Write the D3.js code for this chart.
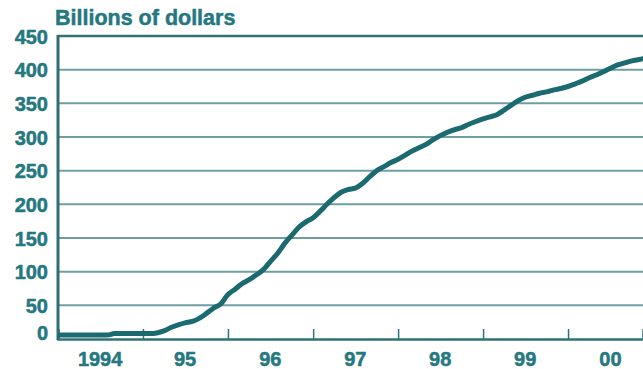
<!DOCTYPE html>
<html>
<head>
<meta charset="utf-8">
<script src="https://cdn.jsdelivr.net/npm/d3@7"></script>
<style>
  html, body { margin: 0; padding: 0; background: #fff; }
  svg { display: block; }
</style>
</head>
<body>
<div id="chart"></div>
<script>
// Monthly values, billions of dollars (Jan..Dec of each year)
const values1994 = [6, 6, 6, 6, 6, 6, 6, 6, 8, 8, 8, 8];
const values1995 = [8, 8, 9, 12, 17, 21, 24, 26, 31, 38, 46, 52];
const values1996 = [66, 74, 82, 88, 95, 103, 115, 127, 142, 154, 166, 174];
const values1997 = [180, 190, 200, 210, 218, 222, 224, 231, 241, 250, 256, 262];
const values1998 = [267, 273, 279, 284, 289, 296, 302, 307, 311, 314, 319, 323];
const values1999 = [327, 330, 333, 340, 347, 354, 359, 362, 365, 367, 370, 372];
const values2000 = [375, 379, 383, 388, 392, 397, 402, 407, 410, 413, 415, 417];

const years = [1994, 1995, 1996, 1997, 1998, 1999, 2000];
const yearLabels = ["1994", "95", "96", "97", "98", "99", "00"];
const yTicks = [0, 50, 100, 150, 200, 250, 300, 350, 400, 450];
const title = "Billions of dollars";

const series = [values1994, values1995, values1996, values1997, values1998, values1999, values2000];
const data = series.flatMap((vals, i) =>
    vals.map((v, m) => ({ date: new Date(years[i], m, 1), value: v })));

const width = 643;
const height = 369;
const marginLeft = 58;
const marginTop = 36;
const marginBottom = 30;

const teal = "#1a6a70";
const textColor = "#247880";

const x = d3.scaleTime()
    .domain([new Date(1994, 0, 1), new Date(2000, 10, 18)])
    .range([marginLeft, width]);

const y = d3.scaleLinear()
    .domain([0, 450])
    .range([height - marginBottom, marginTop]);

const svg = d3.select("#chart")
    .append("svg")
    .attr("width", width)
    .attr("height", height)
    .attr("viewBox", [0, 0, width, height])
    .style("font-family", "'Liberation Sans', Arial, sans-serif")
    .style("font-weight", "bold");

// Title
svg.append("text")
    .attr("x", 55)
    .attr("y", 25)
    .attr("fill", textColor)
    .attr("stroke", textColor)
    .attr("stroke-width", 0.5)
    .attr("font-size", 21.5)
    .text(title);

// Horizontal grid lines
svg.append("g")
    .selectAll("line")
    .data(yTicks.filter(d => d > 0))
    .join("line")
    .attr("x1", marginLeft)
    .attr("x2", width)
    .attr("y1", d => y(d))
    .attr("y2", d => y(d))
    .attr("stroke", d => d === 450 ? "#2e7378" : "#6f9ea2")
    .attr("stroke-width", d => d === 450 ? 2.5 : 2);

// Y axis labels
svg.append("g")
    .attr("transform", `translate(${marginLeft},0)`)
    .call(d3.axisLeft(y).tickValues(yTicks).tickSize(0).tickPadding(10))
    .call(g => g.select(".domain").remove())
    .call(g => g.selectAll(".tick text")
        .attr("fill", textColor)
        .attr("stroke", textColor)
        .attr("stroke-width", 0.5)
        .attr("font-size", 20)
        .attr("font-family", "'Liberation Sans', Arial, sans-serif")
        .attr("font-weight", "bold")
        .attr("dy", d => d === 0 ? "0em" : "0.35em"));

// X axis: year boundary ticks, labels centred in the year
const yearStarts = years.map(yr => new Date(yr, 0, 1));
const bottom = y(0);

svg.append("g")
    .attr("transform", `translate(0,${bottom})`)
    .call(d3.axisBottom(x).tickValues(yearStarts.slice(1)).tickSize(-10).tickFormat(""))
    .call(g => g.select(".domain").attr("stroke", "#2e7379").attr("stroke-width", 2.5))
    .call(g => g.selectAll(".tick line").attr("stroke", "#2e7379").attr("stroke-width", 1.5));

svg.append("g")
    .selectAll("text")
    .data(years)
    .join("text")
    .attr("x", (yr) => x(new Date(yr, 6, 1)))
    .attr("y", 366)
    .attr("text-anchor", "middle")
    .attr("fill", textColor)
    .attr("stroke", textColor)
    .attr("stroke-width", 0.5)
    .attr("font-size", 20)
    .text((yr, i) => yearLabels[i]);

// Left axis line
svg.append("line")
    .attr("x1", marginLeft)
    .attr("x2", marginLeft)
    .attr("y1", y(450) - 1)
    .attr("y2", bottom + 1)
    .attr("stroke", "#2e6e74")
    .attr("stroke-width", 3);

// Data line
svg.append("defs").append("clipPath")
    .attr("id", "plot-clip")
    .append("rect")
    .attr("x", marginLeft)
    .attr("y", 0)
    .attr("width", width - marginLeft)
    .attr("height", height);

const line = d3.line()
    .x(d => x(d.date))
    .y(d => y(d.value))
    .curve(d3.curveMonotoneX);

svg.append("path")
    .datum(data)
    .attr("clip-path", "url(#plot-clip)")
    .attr("fill", "none")
    .attr("stroke", teal)
    .attr("stroke-width", 5)
    .attr("stroke-linejoin", "round")
    .attr("stroke-linecap", "round")
    .attr("d", line);
</script>
</body>
</html>
